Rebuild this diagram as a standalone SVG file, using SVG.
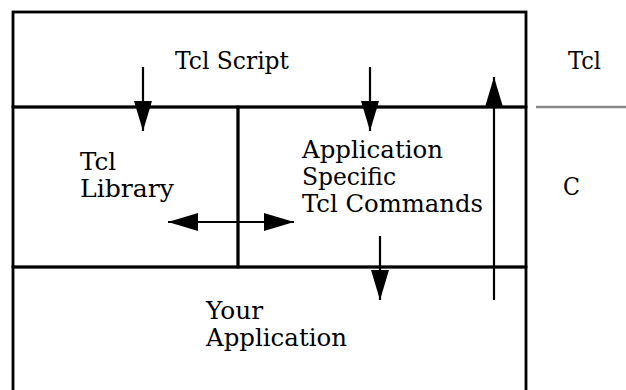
<svg xmlns="http://www.w3.org/2000/svg" width="626" height="390" viewBox="0 0 626 390">
<style>
.box{fill:none;stroke:#000;stroke-width:2.8}
.t{font-family:"DejaVu Serif","Liberation Serif",serif;font-size:24px;fill:#000}
.c{stroke:#000;stroke-width:2.2;fill:none}
</style>
<defs>
<marker id="ah" markerUnits="userSpaceOnUse" markerWidth="30" markerHeight="18" refX="30" refY="9" orient="auto-start-reverse" viewBox="0 0 30 18">
<path d="M0,0 L30,9 L0,18 z" fill="#000"/>
</marker>
</defs>
<rect width="626" height="390" fill="#fff"/>
<g id="tcl-script">
<rect class="box" x="13" y="12" width="513" height="95"/>
<text class="t" x="175" y="69" textLength="114" lengthAdjust="spacingAndGlyphs">Tcl Script</text>
</g>
<g id="tcl-library">
<rect class="box" x="13" y="107" width="225" height="160"/>
<text class="t" x="80" y="170" textLength="36" lengthAdjust="spacingAndGlyphs">Tcl</text>
<text class="t" x="80" y="197" textLength="94" lengthAdjust="spacingAndGlyphs">Library</text>
</g>
<g id="app-commands">
<rect class="box" x="238" y="107" width="288" height="160"/>
<text class="t" x="302" y="158" textLength="141" lengthAdjust="spacingAndGlyphs">Application</text>
<text class="t" x="302" y="185" textLength="94" lengthAdjust="spacingAndGlyphs">Specific</text>
<text class="t" x="302" y="212" textLength="181" lengthAdjust="spacingAndGlyphs">Tcl Commands</text>
</g>
<g id="your-app">
<rect class="box" x="13" y="267" width="513" height="130"/>
<text class="t" x="206" y="319" textLength="57" lengthAdjust="spacingAndGlyphs">Your</text>
<text class="t" x="206" y="346" textLength="141" lengthAdjust="spacingAndGlyphs">Application</text>
</g>
<g id="layer-labels">
<text class="t" x="568" y="69" textLength="33" lengthAdjust="spacingAndGlyphs">Tcl</text>
<line x1="536" y1="107" x2="626" y2="107" stroke="#888" stroke-width="2.5"/>
<text class="t" x="563" y="195" textLength="17" lengthAdjust="spacingAndGlyphs">C</text>
</g>
<g id="connectors">
<line class="c" x1="143" y1="67" x2="143" y2="131" marker-end="url(#ah)"/>
<line class="c" x1="370" y1="67" x2="370" y2="131" marker-end="url(#ah)"/>
<line class="c" x1="380" y1="236" x2="380" y2="300" marker-end="url(#ah)"/>
<line class="c" x1="494" y1="300" x2="494" y2="77" marker-end="url(#ah)"/>
<line class="c" x1="168" y1="222" x2="294" y2="222" marker-start="url(#ah)" marker-end="url(#ah)"/>
</g>
</svg>
